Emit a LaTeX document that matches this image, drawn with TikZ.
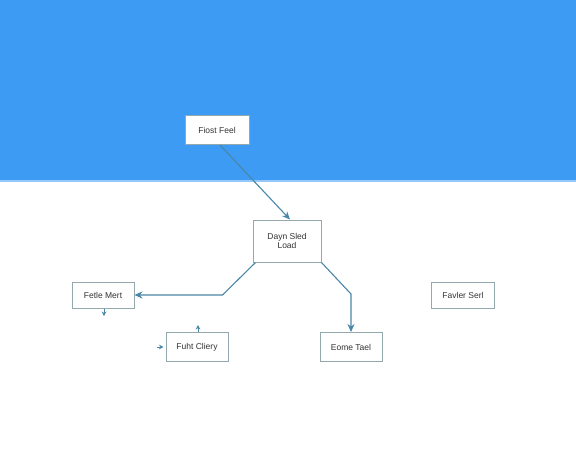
\documentclass[tikz,border=0pt]{standalone}
\usepackage{fontspec}
\setmainfont{Liberation Sans}
\usetikzlibrary{arrows.meta}

\definecolor{bandblue}{HTML}{3E9BF4}
\definecolor{linkcol}{HTML}{4A86A6}
\definecolor{boxcol}{HTML}{93A9AE}
\definecolor{txtcol}{HTML}{333333}

\tikzset{
    card/.style={draw=boxcol, fill=white, line width=1pt, minimum width=62pt, minimum height=27pt,
        inner sep=2pt, font=\fontsize{8.5}{9.5}\selectfont, text=txtcol, align=center},
    link/.style={draw=linkcol, line width=1.1pt, -{Stealth[length=8pt,width=7pt]}},
    stub/.style={draw=linkcol, line width=1pt, -{Stealth[length=4.5pt,width=4.5pt]}}
}

\begin{document}
\begin{tikzpicture}[x=1pt, y=-1pt]  % one unit per pixel, y runs downwards
    \useasboundingbox (0,0) rectangle (576,448);

    % Draw the blue band on top
    \fill[bandblue] (0,0) rectangle (576,182);
    \fill[bandblue!55!white] (0,180) rectangle (576,182);

    % Draw the boxes
    \node[card, minimum width=64pt, minimum height=29pt] (fiost) at (217,130) {Fiost Feel};
    \node[card, minimum width=68pt, minimum height=42pt] (dayn) at (287,241) {Dayn Sled\\Load};
    \node[card, minimum height=26pt] (fetle) at (103,295) {Fetle Mert};
    \node[card, minimum height=29pt] (fuht) at (197,347) {Fuht Cliery};
    \node[card, minimum height=29pt] (eome) at (351,347) {Eome Tael};
    \node[card, minimum width=63pt, minimum height=26pt] (favler) at (463,295) {Favler Serl};

    % Draw the links between the boxes
    \draw[link] ([xshift=3pt]fiost.south) -- ([xshift=3pt]dayn.north);
    \draw[link] ([xshift=3pt]dayn.south west) -- ([xshift=88pt]fetle.east) -- (fetle.east);
    \draw[link] (dayn.south east) -- ([yshift=38pt]eome.north) -- (eome.north);

    % Draw the short loose ends
    \coordinate (fetledown) at (104,316);
    \coordinate (fuhtup) at (198,325);
    \coordinate (fuhtleft) at (157,347);
    \draw[stub] ([xshift=1pt]fetle.south) -- (fetledown);
    \draw[stub] ([xshift=1pt]fuht.north) -- (fuhtup);
    \draw[stub] (fuhtleft) -- ([xshift=-2pt]fuht.west);

\end{tikzpicture}
\end{document}
